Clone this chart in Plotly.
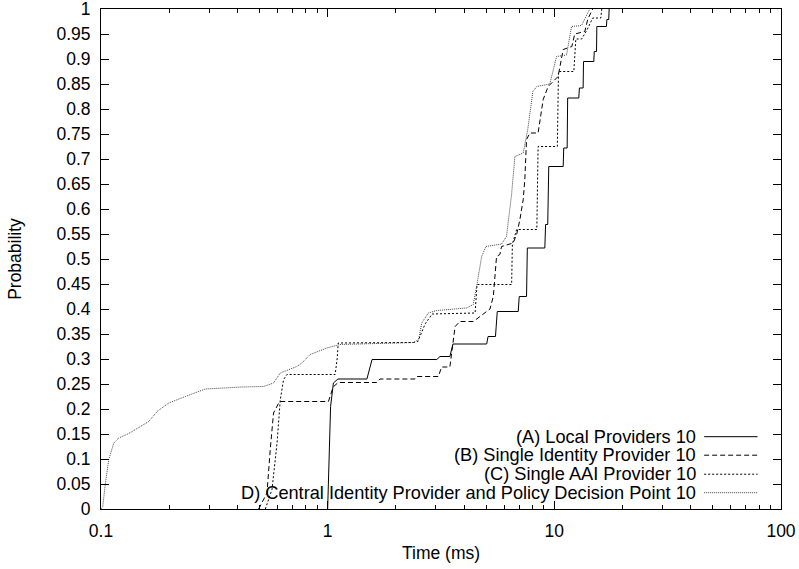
import plotly.graph_objects as go

# ---- data (time in ms, cumulative probability) ----
A_x = [1.0, 1.03, 1.06, 1.11, 1.49, 1.57, 3.03, 3.13, 3.46, 3.57, 5.03, 5.1, 5.5, 5.6,
       6.93, 7.0, 7.54, 7.6, 9.08, 9.15, 9.35, 9.45, 10.94, 11.0, 11.39, 11.45, 12.82, 12.9,
       13.40, 13.45, 14.93, 15.0, 15.35, 15.4, 16.98, 17.05, 17.38, 17.45]
A_p = [0.0, 0.205, 0.252, 0.26, 0.26, 0.299, 0.299, 0.305, 0.305, 0.33, 0.33, 0.345, 0.345, 0.395,
       0.395, 0.425, 0.425, 0.522, 0.522, 0.569, 0.569, 0.685, 0.685, 0.722, 0.722, 0.822, 0.822, 0.842,
       0.842, 0.895, 0.895, 0.915, 0.915, 0.965, 0.965, 0.979, 0.979, 1.0]

B_x = [0.496, 0.54, 0.558, 0.577, 0.613, 1.008, 1.057, 1.113, 1.647, 1.70, 2.43, 2.48, 3.08, 3.18,
       3.46, 3.65, 3.83, 4.39, 4.70, 5.20, 5.38, 5.47, 5.56, 5.75, 5.85, 6.58, 6.82, 7.05, 7.29, 7.41,
       7.54, 7.80, 8.48, 8.93, 9.39, 10.39, 10.94, 11.95, 12.3, 13.63, 14.05, 14.77]
B_p = [0.0, 0.032, 0.119, 0.192, 0.215, 0.215, 0.244, 0.253, 0.253, 0.26, 0.26, 0.265, 0.265, 0.284,
       0.284, 0.365, 0.375, 0.375, 0.385, 0.40, 0.425, 0.459, 0.505, 0.509, 0.525, 0.532, 0.549, 0.579, 0.619, 0.659,
       0.739, 0.752, 0.752, 0.819, 0.845, 0.865, 0.919, 0.925, 0.95, 0.955, 0.98, 1.0]

C_x = [0.531, 0.568, 0.598, 0.618, 0.639, 0.661, 1.079, 1.101, 1.113, 2.39, 2.50, 2.69, 2.89, 4.47,
       4.56, 6.48, 6.53, 6.82, 8.37, 8.48, 10.31, 10.43, 12.19, 12.44, 13.2, 14.0, 14.77, 16.03, 16.2]
C_p = [0.0, 0.039, 0.132, 0.219, 0.259, 0.269, 0.269, 0.30, 0.332, 0.333, 0.335, 0.37, 0.39, 0.392,
       0.449, 0.449, 0.53, 0.559, 0.559, 0.725, 0.725, 0.875, 0.875, 0.94, 0.94, 0.96, 0.982, 0.982, 1.0]

D_x = [0.1, 0.1018, 0.1046, 0.1082, 0.1139, 0.1198, 0.1326, 0.1624, 0.1768, 0.199,
       0.2356, 0.2887, 0.4188, 0.521, 0.577, 0.618, 0.731, 0.769, 0.837, 0.991,
       1.135, 2.39, 2.52, 2.60, 2.78, 3.03, 4.10, 4.39, 4.54, 4.78,
       4.99, 5.85, 6.15, 6.48, 6.70, 7.29, 7.64, 8.04, 8.37, 9.55,
       10.23, 11.32, 11.91, 13.18, 14.33]
D_p = [0.0, 0.005, 0.052, 0.099, 0.132, 0.142, 0.151, 0.175, 0.195, 0.212,
       0.225, 0.240, 0.244, 0.245, 0.252, 0.272, 0.285, 0.292, 0.309, 0.322,
       0.329, 0.333, 0.339, 0.372, 0.392, 0.397, 0.402, 0.409, 0.445, 0.505,
       0.525, 0.530, 0.545, 0.63, 0.705, 0.712, 0.76, 0.835, 0.845, 0.85,
       0.905, 0.908, 0.965, 0.967, 1.0]

series_names = ["(A) Local Providers 10",
                "(B) Single Identity Provider 10",
                "(C) Single AAI Provider 10",
                "D) Central Identity Provider and Policy Decision Point 10"]

x_tick_vals = [0.1, 1, 10, 100]
x_tick_text = ["0.1", "1", "10", "100"]
x_minor_vals = [m * d for d in (0.1, 1, 10) for m in range(2, 10)]
y_tick_vals = [round(i * 0.05, 2) for i in range(21)]
y_tick_text = ["0", "0.05", "0.1", "0.15", "0.2", "0.25", "0.3", "0.35", "0.4", "0.45", "0.5",
               "0.55", "0.6", "0.65", "0.7", "0.75", "0.8", "0.85", "0.9", "0.95", "1"]

styles = [dict(color="black", width=1, dash="solid"),
          dict(color="black", width=1, dash="5px,3px"),
          dict(color="black", width=1, dash="2px,2px"),
          dict(color="#444444", width=1, dash="1px,1px")]

FONT = "Liberation Sans, Arial, Helvetica, sans-serif"

fig = go.Figure()
for (xs, ps), name, st in zip([(A_x, A_p), (B_x, B_p), (C_x, C_p), (D_x, D_p)], series_names, styles):
    fig.add_trace(go.Scatter(x=xs, y=ps, mode="lines", name=name, line=st, showlegend=False,
                             hoverinfo="skip"))

# manual legend (text right-aligned, sample on the right, as in the reference)
legend_rows_y = [0.1446, 0.1076, 0.0696, 0.0326]
for name, st, yy in zip(series_names, styles, legend_rows_y):
    fig.add_annotation(x=0.876, y=yy, xref="paper", yref="paper", text=name,
                       showarrow=False, xanchor="right", yanchor="middle", borderpad=0,
                       font=dict(family=FONT, size=18.2, color="black"))
    fig.add_shape(type="line", xref="paper", yref="paper", x0=0.887, x1=0.9655, y0=yy, y1=yy,
                  line=st)

axis_common = dict(showline=True, linecolor="black", linewidth=1, mirror="allticks",
                   ticks="inside", ticklen=8, tickcolor="black", tickwidth=1,
                   showgrid=False, zeroline=False, ticklabeloverflow="allow",
                   tickfont=dict(family=FONT, size=17.5, color="black"))

fig.update_xaxes(type="log", range=[-1, 2], tickmode="array", tickvals=x_tick_vals,
                 ticktext=x_tick_text, ticklabelstandoff=6,
                 minor=dict(ticks="inside", ticklen=4, tickcolor="black", tickvals=x_minor_vals,
                            showgrid=False),
                 title=dict(text="Time (ms)", font=dict(family=FONT, size=17.5, color="black"),
                            standoff=6),
                 **axis_common)
fig.update_yaxes(range=[0, 1], tickmode="array", tickvals=y_tick_vals, ticktext=y_tick_text,
                 ticklabelstandoff=6,
                 title=dict(text="Probability", font=dict(family=FONT, size=17.5, color="black"),
                            standoff=30),
                 **axis_common)

fig.update_layout(width=799, height=569,
                  margin=dict(l=100.5, r=17.5, t=9.3, b=59.7, autoexpand=False),
                  plot_bgcolor="white", paper_bgcolor="white", hovermode=False,
                  font=dict(family=FONT, size=17.5, color="black"))

fig.write_html("out.html", config={"displayModeBar": False},
               post_script="document.body.style.margin='0';")
